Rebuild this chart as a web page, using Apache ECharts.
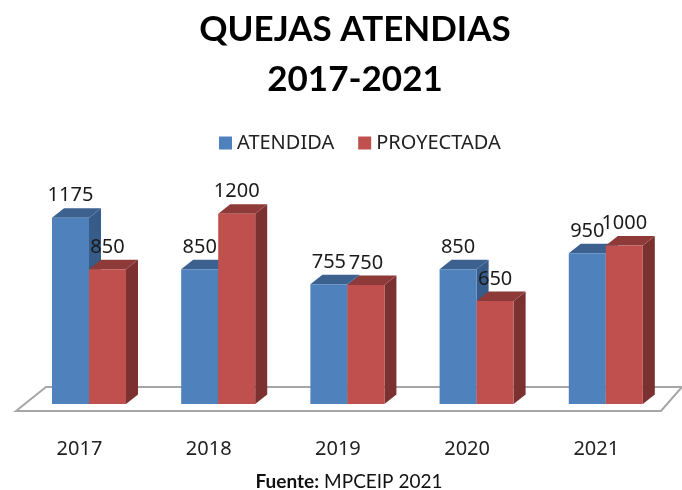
<!DOCTYPE html>
<html>
<head>
<meta charset="utf-8">
<style>html,body{margin:0;padding:0;background:#fff}#chart{width:682px;height:490px}</style>
<script src="https://cdn.jsdelivr.net/npm/echarts@6/dist/echarts.min.js"></script>
</head>
<body>
<div id="chart"></div>
<script>
var years = ['2017', '2018', '2019', '2020', '2021'];
var atendida = [1175, 850, 755, 850, 950];
var proyectada = [850, 1200, 750, 650, 1000];

var depthX = 12, depthY = 9.5;
var barRatio = 0.2865;

// draws one bar as three faces, offset: 0 left of the band centre, 1 right of it
function bar3d(offset, front, top, side) {
  return function (params, api) {
    var p = api.coord([api.value(0), api.value(1)]);
    var base = api.coord([api.value(0), 0]);
    var w = api.size([1, 0])[0] * barRatio;
    var x0 = p[0] + (offset - 1) * w;
    var x1 = x0 + w;
    return {
      type: 'group',
      children: [
        { type: 'polygon', shape: { points: [[x1, p[1]], [x1 + depthX, p[1] - depthY], [x1 + depthX, base[1] - depthY], [x1, base[1]]] }, style: { fill: side } },
        { type: 'polygon', shape: { points: [[x0, p[1]], [x0 + depthX, p[1] - depthY], [x1 + depthX, p[1] - depthY], [x1, p[1]]] }, style: { fill: top } },
        { type: 'rect', shape: { x: x0, y: p[1], width: w, height: base[1] - p[1] }, style: { fill: front } },
        { type: 'text', z2: 10, style: { x: (x0 + x1) / 2, y: p[1] - 22, text: String(api.value(1)), fill: '#1a1a1a', font: '20px "Noto Sans"', align: 'center', verticalAlign: 'middle' } }
      ]
    };
  };
}

var chart = echarts.init(document.getElementById('chart'));
chart.setOption({
  animation: false,
  title: [{
    text: 'QUEJAS ATENDIAS\n2017-2021',
    left: 350,
    top: 0,
    textAlign: 'center',
    textStyle: { fontFamily: 'Lato', fontWeight: 'bold', fontSize: 35, lineHeight: 50, color: '#000' }
  }, {
    text: '{b|Fuente:} {n|MPCEIP 2021}',
    left: 344,
    top: 467,
    textAlign: 'center',
    textStyle: {
      rich: {
        b: { fontFamily: 'Lato', fontWeight: 'bold', fontSize: 19, color: '#111' },
        n: { fontFamily: 'Lato', fontWeight: 'normal', fontSize: 19, color: '#111' }
      }
    }
  }],
  legend: {
    left: 219,
    top: 133,
    padding: 0,
    icon: 'rect',
    itemWidth: 13,
    itemHeight: 13,
    itemGap: 24,
    data: ['ATENDIDA', 'PROYECTADA'],
    textStyle: { fontFamily: 'Noto Sans', fontSize: 20, color: '#222' }
  },
  grid: { left: 24.4, right: 11.6, top: 182, bottom: 86 },
  graphic: [{
    type: 'polygon',
    z: 0,
    shape: { points: [[16, 411], [661, 411], [682, 387], [46, 387]] },
    style: { fill: '#fff', stroke: '#a6a6a6', lineWidth: 2 }
  }],
  xAxis: {
    type: 'category',
    data: years,
    axisLine: { show: false },
    axisTick: { show: false },
    axisLabel: { margin: 35, padding: [0, 19, 0, 0], fontFamily: 'Noto Sans', fontSize: 20, color: '#222' }
  },
  yAxis: { type: 'value', min: 0, max: 1400, show: false, splitLine: { show: false } },
  series: [{
    name: 'ATENDIDA',
    type: 'custom',
    itemStyle: { color: '#4f81bd' },
    renderItem: bar3d(0, '#4f81bd', '#3c618f', '#375c8a'),
    encode: { x: 0, y: 1 },
    data: years.map(function (y, i) { return [i, atendida[i]]; })
  }, {
    name: 'PROYECTADA',
    type: 'custom',
    itemStyle: { color: '#c0504d' },
    renderItem: bar3d(1, '#c0504d', '#8e3a38', '#7b3130'),
    encode: { x: 0, y: 1 },
    data: years.map(function (y, i) { return [i, proyectada[i]]; })
  }]
});
</script>
</body>
</html>
